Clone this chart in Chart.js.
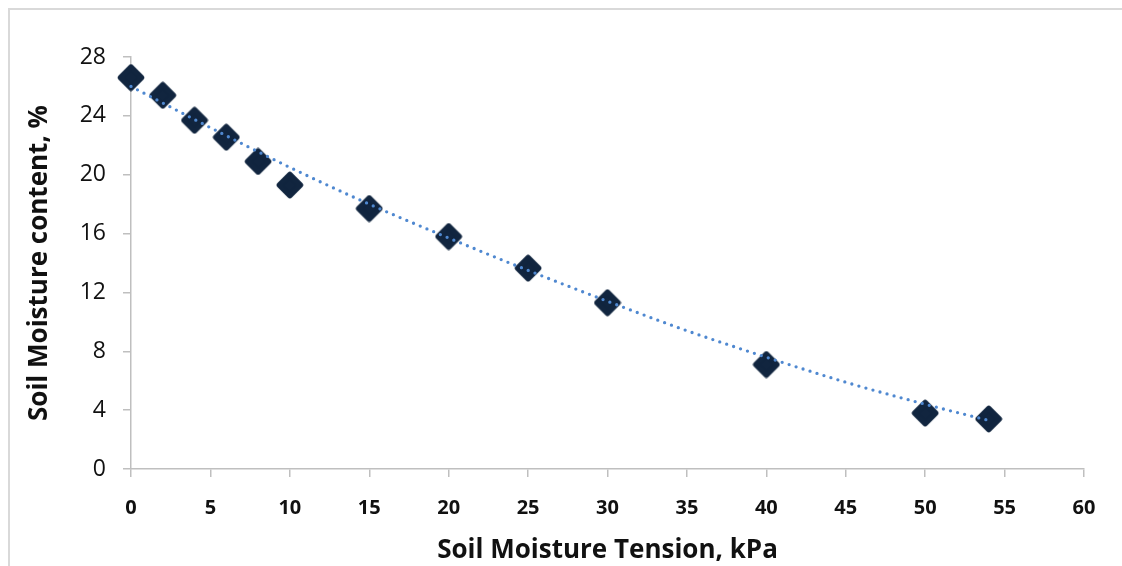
<!DOCTYPE html>
<html>
<head>
<meta charset="utf-8">
<script src="https://cdn.jsdelivr.net/npm/chart.js@4.4.1/dist/chart.umd.min.js"></script>
<style>
  html, body { margin: 0; padding: 0; background: #ffffff; }
  #wrap { position: relative; width: 1122px; height: 566px; }
  canvas { display: block; }
</style>
</head>
<body>
<div id="wrap"><canvas id="c" width="1122" height="566"></canvas></div>
<script>
// ---- Data ----
const tension = [0, 2, 4, 6, 8, 10, 15, 20, 25, 30, 40, 50, 54];          // kPa
const moisture = [26.6, 25.4, 23.7, 22.55, 20.9, 19.3, 17.7, 15.8, 13.65, 11.3, 7.1, 3.8, 3.4]; // %
const trendX = [0, 5, 10, 15, 20, 25, 30, 35, 40, 45, 50, 54];
const trendY = [26.0, 23.2, 20.5, 18.0, 15.7, 13.5, 11.4, 9.4, 7.6, 5.9, 4.4, 3.3];
const xTicks = [0, 5, 10, 15, 20, 25, 30, 35, 40, 45, 50, 55, 60];
const yTicks = [0, 4, 8, 12, 16, 20, 24, 28];
const xTitle = 'Soil Moisture Tension, kPa';
const yTitle = 'Soil Moisture content, %';

// Rounded diamond marker image
function makeDiamond(size, color) {
  const c = document.createElement('canvas');
  c.width = size; c.height = size;
  const g = c.getContext('2d');
  const m = size / 2, r = size / 2 - 3.5;
  g.fillStyle = color; g.strokeStyle = color;
  g.lineWidth = 5.5; g.lineJoin = 'round';
  g.beginPath();
  g.moveTo(m, m - r); g.lineTo(m + r, m); g.lineTo(m, m + r); g.lineTo(m - r, m);
  g.closePath();
  g.fill(); g.stroke();
  return c;
}
const diamond = makeDiamond(28, '#11253f');

const borderPlugin = {
  id: 'frame',
  beforeDraw(chart) {
    const ctx = chart.ctx;
    ctx.save();
    ctx.strokeStyle = '#d9d9d9';
    ctx.lineWidth = 2;
    ctx.beginPath();
    ctx.moveTo(9, 566); ctx.lineTo(9, 9); ctx.lineTo(1122, 9);
    ctx.stroke();
    ctx.restore();
  }
};

const axisGray = '#bfbfbf';
const FONT = "'Open Sans', 'DejaVu Sans', sans-serif";

new Chart(document.getElementById('c'), {
  type: 'scatter',
  data: {
    datasets: [
      {
        label: 'Trend',
        data: trendX.map((x, i) => ({ x: x, y: trendY[i] })),
        showLine: true,
        borderColor: '#4f88d0',
        borderWidth: 3.3,
        borderDash: [0, 7.3],
        borderCapStyle: 'round',
        pointRadius: 0,
        pointHoverRadius: 0,
        cubicInterpolationMode: 'monotone',
        fill: false,
        clip: false,
        order: 0
      },
      {
        label: 'Data',
        data: tension.map((x, i) => ({ x: x, y: moisture[i] })),
        pointStyle: diamond,
        pointRadius: 12,
        showLine: false,
        clip: false,
        order: 1
      }
    ]
  },
  options: {
    responsive: false,
    animation: false,
    devicePixelRatio: 1,
    layout: { padding: { left: 24, top: 57, right: 38, bottom: 0 } },
    plugins: { legend: { display: false }, tooltip: { enabled: false } },
    scales: {
      x: {
        type: 'linear',
        min: 0, max: 60,
        afterFit(s) { s.height = 97; },
        afterBuildTicks(s) { s.ticks = xTicks.map(v => ({ value: v })); },
        border: { display: true, color: axisGray, width: 1.5 },
        grid: { display: true, drawOnChartArea: false, drawTicks: true, tickLength: 8, color: axisGray, lineWidth: 1.5 },
        ticks: { color: '#111', padding: 19, font: { family: FONT, weight: 'bold', size: 20 } },
        title: { display: true, text: xTitle, color: '#111', padding: { top: 0, bottom: 0 },
                 font: { family: FONT, weight: 'bold', size: 26 } }
      },
      y: {
        type: 'linear',
        min: 0, max: 28,
        afterFit(s) { s.width = 107; },
        afterBuildTicks(s) { s.ticks = yTicks.map(v => ({ value: v })); },
        border: { display: true, color: axisGray, width: 1.5 },
        grid: { display: true, drawOnChartArea: false, drawTicks: true, tickLength: 8, color: axisGray, lineWidth: 1.5 },
        ticks: { color: '#111', padding: 17, font: { family: FONT, weight: 'normal', size: 23 } },
        title: { display: true, text: yTitle, color: '#111', padding: { top: 0, bottom: 0 },
                 font: { family: FONT, weight: 'bold', size: 26 } }
      }
    }
  },
  plugins: [borderPlugin]
});
</script>
</body>
</html>
